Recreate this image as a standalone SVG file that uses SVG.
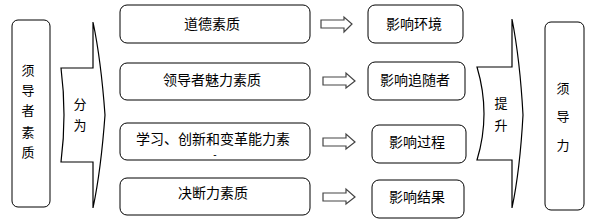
<svg xmlns="http://www.w3.org/2000/svg" width="595" height="221" viewBox="0 0 595 221">
<defs>
<style>
.box{fill:#fff;stroke:#000;stroke-width:1}
.shape{fill:#fff;stroke:#000;stroke-width:1.2}
.arr{fill:#fff;stroke:#444;stroke-width:1.2}
text{font-family:"Noto Sans CJK SC","Noto Sans",sans-serif;font-size:14px;fill:#000;text-anchor:middle}
.v{font-size:13px}
.d{font-family:"Liberation Sans",sans-serif;font-size:10px}
</style>
</defs>
<rect width="595" height="221" fill="#fff"/>
<g id="left-box">
<rect class="box" x="12" y="20" width="38" height="187" rx="6"/>
<text class="v" x="28" y="75">须</text>
<text class="v" x="28" y="95">导</text>
<text class="v" x="28" y="115">者</text>
<text class="v" x="28" y="137">素</text>
<text class="v" x="28" y="157">质</text>
</g>
<g id="fenwei">
<path class="shape" d="M93,22 L93,68 L61,68 Q67,115 61,162 L93,162 L93,208 Q101,170 105,115 Q101,60 93,22 Z"/>
<text class="v" x="80" y="109">分</text>
<text class="v" x="80" y="130">为</text>
</g>
<g id="q1"><rect class="box" x="120" y="5" width="190" height="38" rx="7"/><text x="212" y="29">道德素质</text></g>
<g id="q2"><rect class="box" x="120" y="63" width="190" height="37" rx="7"/><text x="212" y="85">领导者魅力素质</text></g>
<g id="q3"><rect class="box" x="120" y="123" width="190" height="37" rx="7"/><text x="213" y="144">学习、创新和变革能力素</text><text class="d" x="215" y="158">-</text></g>
<g id="q4"><rect class="box" x="120" y="178" width="190" height="37" rx="7"/><text x="213" y="198">决断力素质</text></g>
<g id="connectors">
<path class="arr" d="M321,20 L344,20 L344,17 L352,24 L344,32 L344,28 L321,28 Z"/>
<path class="arr" d="M323,77 L346,77 L346,73 L355,81 L346,88 L346,85 L323,85 Z"/>
<path class="arr" d="M323,138 L346,138 L346,134 L355,142 L346,149 L346,146 L323,146 Z"/>
<path class="arr" d="M323,193 L346,193 L346,189 L355,197 L346,204 L346,201 L323,201 Z"/>
</g>
<g id="r1"><rect class="box" x="368" y="5" width="95" height="38" rx="7"/><text x="414" y="29">影响环境</text></g>
<g id="r2"><rect class="box" x="368" y="62" width="97" height="38" rx="7"/><text x="415" y="85">影响追随者</text></g>
<g id="r3"><rect class="box" x="372" y="125" width="94" height="38" rx="7"/><text x="417" y="147">影响过程</text></g>
<g id="r4"><rect class="box" x="372" y="180" width="92" height="38" rx="7"/><text x="417" y="202">影响结果</text></g>
<g id="tisheng">
<path class="shape" d="M512,19 L512,67 L477,67 Q491,114 477,160 L512,160 L512,208 Q520,170 523,115 Q520,60 512,19 Z"/>
<text class="v" x="501" y="108">提</text>
<text class="v" x="501" y="130">升</text>
</g>
<g id="right-box">
<rect class="box" x="545" y="22" width="39" height="188" rx="6"/>
<text class="v" x="563" y="93">须</text>
<text class="v" x="563" y="121">导</text>
<text class="v" x="563" y="150">力</text>
</g>
</svg>
